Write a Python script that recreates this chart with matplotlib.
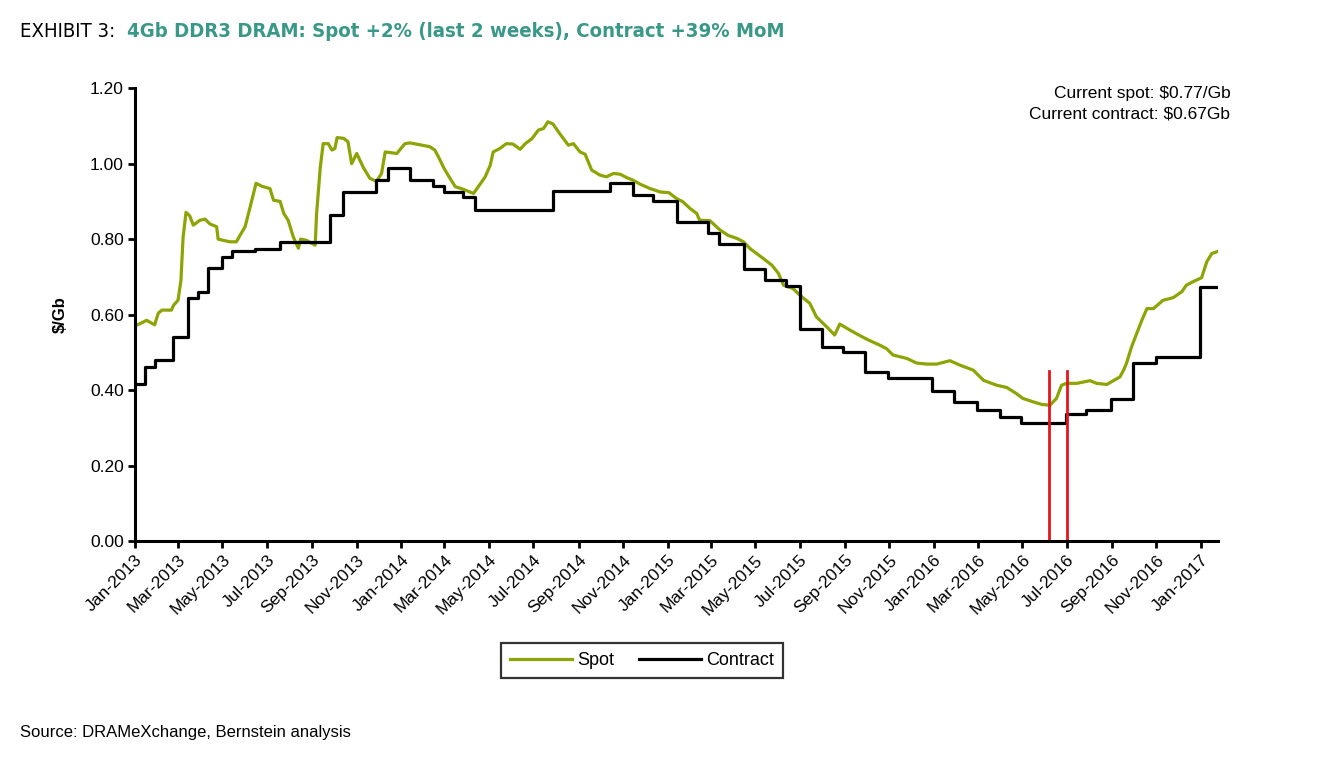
import pandas as pd
import numpy as np
import matplotlib
matplotlib.use('Agg')
from matplotlib import pyplot as plt
import matplotlib.dates as mdates
from matplotlib.ticker import FormatStrFormatter
from matplotlib import font_manager

plt.rcParams['font.family'] = ['Liberation Sans', 'DejaVu Sans']

# 4Gb DDR3 spot price, $/Gb
spot_dates = [
    '2013-01-03', '2013-01-10', '2013-01-17', '2013-01-28', '2013-02-02', '2013-02-07',
    '2013-02-20', '2013-02-23', '2013-03-01', '2013-03-05', '2013-03-08', '2013-03-12',
    '2013-03-17', '2013-03-22', '2013-03-31', '2013-04-07', '2013-04-14', '2013-04-23',
    '2013-04-25', '2013-05-11', '2013-05-20', '2013-05-25', '2013-06-01', '2013-06-08',
    '2013-06-16', '2013-06-24', '2013-07-05', '2013-07-10', '2013-07-19', '2013-07-24',
    '2013-07-30', '2013-08-06', '2013-08-13', '2013-08-16', '2013-08-24', '2013-09-05',
    '2013-09-07', '2013-09-12', '2013-09-16', '2013-09-23', '2013-09-28', '2013-10-02',
    '2013-10-05', '2013-10-14', '2013-10-20', '2013-10-25', '2013-11-01', '2013-11-10',
    '2013-11-19', '2013-11-28', '2013-12-05', '2013-12-10', '2013-12-26',
    '2014-01-06', '2014-01-13', '2014-02-09', '2014-02-16', '2014-02-21', '2014-02-28',
    '2014-03-06', '2014-03-16', '2014-03-27', '2014-04-10', '2014-04-17', '2014-04-26',
    '2014-05-03', '2014-05-07', '2014-05-16', '2014-05-25', '2014-06-03', '2014-06-13',
    '2014-06-20', '2014-06-29', '2014-07-08', '2014-07-15', '2014-07-21', '2014-07-28',
    '2014-08-06', '2014-08-13', '2014-08-18', '2014-08-25', '2014-09-03', '2014-09-10',
    '2014-09-19', '2014-09-30', '2014-10-09', '2014-10-19', '2014-10-28', '2014-11-06',
    '2014-11-15', '2014-11-24', '2014-12-08', '2014-12-22',
    '2015-01-03', '2015-01-13', '2015-01-22', '2015-02-01', '2015-02-10', '2015-02-14',
    '2015-02-28', '2015-03-14', '2015-03-25', '2015-04-06', '2015-04-15', '2015-04-24',
    '2015-05-03', '2015-05-12', '2015-05-24', '2015-06-02', '2015-06-09', '2015-06-22',
    '2015-07-01', '2015-07-15', '2015-07-24', '2015-08-07', '2015-08-18', '2015-08-25',
    '2015-09-08', '2015-09-22', '2015-10-03', '2015-10-19', '2015-10-28', '2015-11-06',
    '2015-11-25', '2015-12-08', '2015-12-22',
    '2016-01-05', '2016-01-23', '2016-02-06', '2016-02-24', '2016-03-09', '2016-03-27',
    '2016-04-10', '2016-04-23', '2016-05-02', '2016-05-16', '2016-05-28', '2016-06-08',
    '2016-06-17', '2016-06-24', '2016-07-01', '2016-07-15', '2016-08-02', '2016-08-11',
    '2016-08-25', '2016-09-03', '2016-09-12', '2016-09-17', '2016-09-21', '2016-09-28',
    '2016-10-05', '2016-10-12', '2016-10-19', '2016-10-28', '2016-11-10', '2016-11-24',
    '2016-12-06', '2016-12-12', '2016-12-21',
    '2017-01-02', '2017-01-09', '2017-01-16', '2017-01-25',
]
spot_values = [
    0.572, 0.578, 0.585, 0.573, 0.604, 0.612,
    0.612, 0.625, 0.638, 0.690, 0.805, 0.871,
    0.862, 0.837, 0.850, 0.853, 0.840, 0.833,
    0.800, 0.793, 0.793, 0.810, 0.833, 0.886,
    0.948, 0.940, 0.934, 0.903, 0.900, 0.868,
    0.850, 0.806, 0.776, 0.800, 0.797, 0.784,
    0.868, 0.990, 1.053, 1.053, 1.036, 1.040,
    1.069, 1.067, 1.058, 1.000, 1.027, 0.990,
    0.961, 0.953, 0.974, 1.031, 1.027,
    1.053, 1.055, 1.045, 1.036, 1.018, 0.990,
    0.970, 0.939, 0.932, 0.921, 0.940, 0.965,
    0.996, 1.031, 1.040, 1.053, 1.052, 1.038,
    1.053, 1.066, 1.089, 1.093, 1.111, 1.105,
    1.080, 1.062, 1.049, 1.053, 1.031, 1.025,
    0.983, 0.970, 0.965, 0.974, 0.972, 0.963,
    0.956, 0.946, 0.934, 0.925,
    0.923, 0.908, 0.899, 0.881, 0.868, 0.850,
    0.849, 0.824, 0.810, 0.802, 0.793, 0.775,
    0.762, 0.749, 0.731, 0.709, 0.678, 0.669,
    0.652, 0.630, 0.594, 0.568, 0.546, 0.575,
    0.559, 0.544, 0.533, 0.519, 0.510, 0.493,
    0.484, 0.472, 0.469,
    0.469, 0.478, 0.466, 0.453, 0.426, 0.413,
    0.407, 0.391, 0.378, 0.369, 0.362, 0.360,
    0.378, 0.413, 0.418, 0.418, 0.425, 0.418,
    0.415, 0.425, 0.435, 0.453, 0.471, 0.515,
    0.550, 0.585, 0.616, 0.616, 0.638, 0.645,
    0.661, 0.678, 0.687,
    0.698, 0.740, 0.762, 0.768,
]

# contract price, $/Gb - date each new level starts
contract_dates = [
    '2013-01-01', '2013-01-15', '2013-01-28', '2013-02-22', '2013-03-15', '2013-03-29',
    '2013-04-11', '2013-04-30', '2013-05-14', '2013-06-14', '2013-07-19', '2013-09-25',
    '2013-10-13', '2013-11-28', '2013-12-14', '2014-01-13', '2014-02-14', '2014-02-28',
    '2014-03-27', '2014-04-12', '2014-07-28', '2014-10-14', '2014-11-14', '2014-12-12',
    '2015-01-14', '2015-02-25', '2015-03-12', '2015-04-16', '2015-05-15', '2015-06-13',
    '2015-07-01', '2015-07-31', '2015-08-30', '2015-09-29', '2015-10-30', '2015-12-30',
    '2016-01-29', '2016-02-29', '2016-04-01', '2016-04-29', '2016-06-30', '2016-07-28',
    '2016-08-31', '2016-09-30', '2016-10-31', '2016-12-31', '2017-01-25',
]
contract_values = [
    0.416, 0.462, 0.479, 0.541, 0.643, 0.661,
    0.723, 0.753, 0.768, 0.775, 0.793, 0.864,
    0.925, 0.956, 0.989, 0.956, 0.940, 0.925,
    0.912, 0.877, 0.928, 0.949, 0.917, 0.901,
    0.846, 0.817, 0.787, 0.720, 0.691, 0.676,
    0.563, 0.515, 0.501, 0.448, 0.433, 0.398,
    0.369, 0.347, 0.329, 0.313, 0.338, 0.347,
    0.376, 0.472, 0.488, 0.674, 0.674,
]

# the two red markers around the bottom of the cycle
marker_dates = ['2016-06-07', '2016-07-01']
marker_top = 0.45

spot = pd.Series(spot_values, index=pd.to_datetime(spot_dates))
contract = pd.Series(contract_values, index=pd.to_datetime(contract_dates))

spot_color = '#8ea404'
title_color = '#3a9888'

# narrow face for the exhibit title
title_font = font_manager.FontProperties(family='DejaVu Sans', stretch='condensed', size=14.6)
title_bold = font_manager.FontProperties(family='DejaVu Sans', stretch='condensed', size=14.6, weight='bold')

fig = plt.figure(figsize=(13.36, 7.6), dpi=100)
ax = fig.add_axes([0.101, 0.288, 0.811, 0.596])

ax.plot(spot.index, spot.values, color=spot_color, lw=2.3, label='Spot', solid_joinstyle='round')
ax.plot(contract.index, contract.values, color='black', lw=2.3, label='Contract', drawstyle='steps-post')
for d in pd.to_datetime(marker_dates):
    ax.plot([d, d], [0, marker_top], color='#e8141c', lw=2)

ax.set_xlim(pd.Timestamp('2013-01-01'), pd.Timestamp('2017-01-25'))
ax.set_ylim(0, 1.2)
ax.set_yticks(np.arange(0, 1.21, 0.2))
ax.yaxis.set_major_formatter(FormatStrFormatter('%.2f'))
ax.xaxis.set_major_locator(mdates.MonthLocator(bymonth=[1, 3, 5, 7, 9, 11]))
ax.xaxis.set_major_formatter(mdates.DateFormatter('%b-%Y'))
for lbl in ax.get_xticklabels():
    lbl.set_rotation(45)
    lbl.set_ha('right')
    lbl.set_rotation_mode('anchor')

for side in ['top', 'right']:
    ax.spines[side].set_visible(False)
for side in ['left', 'bottom']:
    ax.spines[side].set_linewidth(2.2)
ax.tick_params(axis='both', direction='out', length=5, width=2, labelsize=12.5, pad=3)
ax.set_ylabel('$/Gb', fontsize=12, fontweight='bold', labelpad=16)

leg = ax.legend(loc='upper center', bbox_to_anchor=(0.468, -0.205), ncol=2, fontsize=13,
                frameon=True, fancybox=False, handlelength=3.4, handletextpad=0.3,
                columnspacing=1.4, borderpad=0.5)
leg.get_frame().set_edgecolor('black')
leg.get_frame().set_linewidth(1.6)

fig.text(0.921, 0.877, 'Current spot: $0.77/Gb', ha='right', va='center', fontsize=12.5)
fig.text(0.921, 0.850, 'Current contract: $0.67Gb', ha='right', va='center', fontsize=12.5)

t1 = fig.text(0.015, 0.958, 'EXHIBIT 3:  ', va='center', fontproperties=title_font)
fig.canvas.draw()
bb = t1.get_window_extent()
fig.text(bb.x1 / fig.bbox.width, 0.958, '4Gb DDR3 DRAM: Spot +2% (last 2 weeks), Contract +39% MoM',
         va='center', color=title_color, fontproperties=title_bold)

fig.text(0.015, 0.036, 'Source: DRAMeXchange, Bernstein analysis', fontsize=12, va='center')

fig.savefig('out.png', dpi=100)
